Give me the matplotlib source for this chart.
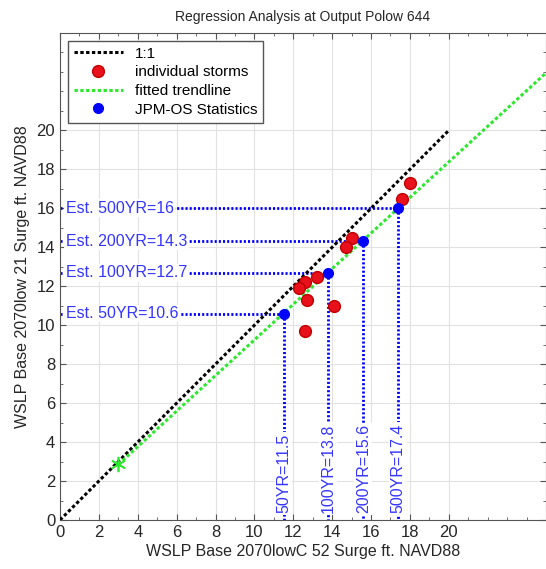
import matplotlib.pyplot as plt
from matplotlib.ticker import MultipleLocator

plt.rcParams["font.family"] = ["Liberation Sans", "DejaVu Sans"]

# individual storms
storm_x = [18.0, 17.6, 15.0, 14.7, 13.2, 12.6, 12.3, 12.7, 14.1, 12.6]
storm_y = [17.3, 16.5, 14.5, 14.0, 12.5, 12.2, 11.9, 11.3, 11.0, 9.7]

# JPM-OS statistics
return_periods = [50, 100, 200, 500]
stat_x = [11.5, 13.8, 15.6, 17.4]
stat_y = [10.6, 12.7, 14.3, 16.0]

one_to_one = [0, 20]
trend_x = [3, 25]
trend_y = [2.85, 22.95]

BLUE = "#0000ff"
TEXT_BLUE = "#3535ff"


def main() -> None:
    fig = plt.figure(figsize=(5.46, 5.69), dpi=100)
    ax = fig.add_axes([60 / 546, 49 / 569, 486 / 546, 487 / 569])

    ax.plot(one_to_one, one_to_one, color="black", lw=2.2, dashes=(1.1, 0.8), label="1:1", zorder=3)
    ax.plot(storm_x, storm_y, "o", color="#e8101a", mec="#c00000", ms=8.5, ls="none",
            label="individual storms", zorder=5)
    ax.plot(trend_x, trend_y, color="#2ee82e", lw=2.2, dashes=(1.1, 0.8), label="fitted trendline", zorder=4)
    ax.plot(trend_x[0], trend_y[0], marker=(6, 2, 0), color="#2ee82e", ms=11, mew=1.2, zorder=4)

    for rp, x, y in zip(return_periods, stat_x, stat_y):
        ax.plot([0, x], [y, y], color=BLUE, lw=2.0, dashes=(0.75, 0.75), zorder=2)
        ax.plot([x, x], [y, 0], color=BLUE, lw=2.0, dashes=(0.75, 0.75), zorder=2)
        ax.text(0.3, y, f"Est. {rp}YR={y:g}", color=TEXT_BLUE, fontsize=11.5, ha="left", va="center",
                bbox=dict(facecolor="white", edgecolor="none", pad=1.0), zorder=3)
        ax.text(x, 0.35, f"{rp}YR={x:g}", color=TEXT_BLUE, fontsize=11.5, ha="center", va="bottom",
                rotation=90, bbox=dict(facecolor="white", edgecolor="none", pad=1.0), zorder=3)
    ax.plot(stat_x, stat_y, "o", color=BLUE, ms=7, ls="none", label="JPM-OS Statistics", zorder=6)

    ax.set_xlim(0, 25)
    ax.set_ylim(0, 25)
    ax.set_xticks(range(0, 21, 2))
    ax.set_yticks(range(0, 21, 2))
    ax.xaxis.set_minor_locator(MultipleLocator(1))
    ax.yaxis.set_minor_locator(MultipleLocator(1))
    ax.tick_params(which="both", direction="in", top=True, right=True, colors="#555555",
                   labelcolor="#262626", labelsize=12)
    ax.tick_params(which="major", length=4)
    ax.tick_params(which="minor", length=2.5)
    ax.grid(True, which="major", color="#e2e2e2", lw=0.8)
    ax.set_axisbelow(True)
    for s in ax.spines.values():
        s.set_color("#555555")

    ax.set_xlabel("WSLP Base 2070lowC 52 Surge ft. NAVD88", fontsize=11.5, color="#262626", labelpad=3)
    ax.set_ylabel("WSLP Base 2070low 21 Surge ft. NAVD88", fontsize=11.5, color="#262626", labelpad=5)
    ax.set_title("Regression Analysis at Output Polow 644", fontsize=10, color="#262626", pad=9)

    leg = ax.legend(loc="upper left", fontsize=11, fancybox=False, framealpha=1,
                    edgecolor="#555555", handlelength=3.2, borderaxespad=0.5, labelspacing=0.3)
    leg.get_frame().set_linewidth(1.0)

    plt.savefig("out.png", dpi=100)
    plt.close()


if __name__ == "__main__":
    main()
